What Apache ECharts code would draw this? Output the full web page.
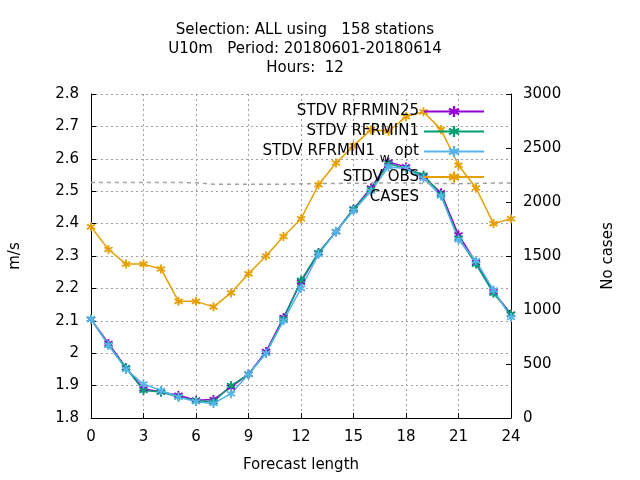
<!DOCTYPE html>
<html><head><meta charset="utf-8">
<script src="https://cdn.jsdelivr.net/npm/echarts@6/dist/echarts.min.js"></script>
<style>body{margin:0}#c{width:640px;height:480px}</style>
</head><body><div id="c"></div>
<script>
var hours = [0,1,2,3,4,5,6,7,8,9,10,11,12,13,14,15,16,17,18,19,20,21,22,23,24];
var rfrmin25 = [2.105,2.03,1.955,1.89,1.88,1.87,1.855,1.857,1.895,1.935,2.005,2.11,2.22,2.31,2.375,2.445,2.51,2.59,2.575,2.545,2.495,2.365,2.28,2.19,2.12];
var rfrmin1 = [2.105,2.025,1.955,1.885,1.88,1.865,1.853,1.85,1.9,1.935,2.0,2.105,2.225,2.31,2.375,2.445,2.505,2.585,2.57,2.55,2.49,2.355,2.275,2.185,2.12];
var rfrmin1opt = [2.105,2.025,1.95,1.905,1.885,1.865,1.85,1.845,1.875,1.935,2.0,2.1,2.2,2.305,2.375,2.44,2.5,2.575,2.57,2.54,2.485,2.35,2.285,2.195,2.11];
var obs = [2.39,2.32,2.275,2.275,2.26,2.16,2.16,2.143,2.186,2.245,2.3,2.36,2.415,2.52,2.587,2.64,2.69,2.685,2.73,2.745,2.69,2.58,2.51,2.4,2.415];
var cases = [2180,2180,2180,2180,2180,2180,2178,2165,2165,2165,2165,2165,2168,2170,2172,2174,2175,2175,2175,2172,2172,2170,2172,2175,2175];

var star = 'path://M-1,-5h2v3.3l2.9,-1.7l1,1.7l-2.9,1.7l2.9,1.7l-1,1.7l-2.9,-1.7v3.3h-2v-3.3l-2.9,1.7l-1,-1.7l2.9,-1.7l-2.9,-1.7l1,-1.7l2.9,1.7z';

function pair(arr) { return hours.map(function (h, i) { return [h, arr[i]]; }); }
function line(name, arr, color) {
    return { name: name, type: 'line', data: pair(arr), symbol: star, symbolSize: 9,
        itemStyle: { color: color }, lineStyle: { color: color, width: 1.5 } };
}
var grid = { lineStyle: { color: '#a0a0a0', type: [2, 3] } };
var font = 'DejaVu Sans';
var lbl = { fontSize: 15, color: '#000' };

var option = {
    animation: false,
    textStyle: { fontFamily: font },
    title: { text: 'Selection: ALL using   158 stations\nU10m   Period: 20180601-20180614\nHours:  12',
        left: 300, top: 16, textAlign: 'center',
        textStyle: { fontSize: 15, fontWeight: 'normal', lineHeight: 19, color: '#000' } },
    grid: { left: 90, right: 129, top: 94, bottom: 62 },
    legend: { right: 150, top: 99, orient: 'vertical', align: 'right', itemGap: 5, itemWidth: 60,
        itemHeight: 14, textStyle: { fontSize: 15, color: '#000',
            rich: { s: { fontSize: 12, padding: [14, 0, 0, 0] } } },
        formatter: function (n) { return n === 'STDV RFRMIN1 opt' ? 'STDV RFRMIN1 {s|w} opt' : n; },
        data: ['STDV RFRMIN25', 'STDV RFRMIN1', 'STDV RFRMIN1 opt', 'STDV OBS',
            { name: 'CASES', icon: 'path://M0,0h1v0.1h-1z', itemStyle: { opacity: 0 } }] },
    xAxis: { type: 'value', min: 0, max: 24, interval: 3, name: 'Forecast length', nameLocation: 'middle',
        nameGap: 40, nameTextStyle: lbl,
        axisLine: { lineStyle: { color: '#000' } }, axisTick: { inside: true },
        axisLabel: { fontSize: 15, color: '#000', margin: 12 }, splitLine: grid },
    yAxis: [
        { type: 'value', min: 1.8, max: 2.8, interval: 0.1, name: 'm/s', nameLocation: 'middle', nameGap: 68,
            nameTextStyle: lbl,
            axisLine: { show: true, lineStyle: { color: '#000' } }, axisTick: { inside: true },
            axisLabel: { fontSize: 15, color: '#000', margin: 12, formatter: function (v) { return String(+v.toFixed(1)); } },
            splitLine: grid },
        { type: 'value', min: 0, max: 3000, interval: 500, name: 'No cases', nameLocation: 'middle', nameGap: 90,
            nameTextStyle: lbl,
            axisLine: { show: true, lineStyle: { color: '#000' } }, axisTick: { inside: true },
            axisLabel: { fontSize: 15, color: '#000', margin: 12, formatter: function (v) { return String(v); } },
            splitLine: { show: false } }
    ],
    series: [
        line('STDV RFRMIN25', rfrmin25, '#9400d3'),
        line('STDV RFRMIN1', rfrmin1, '#009e73'),
        line('STDV RFRMIN1 opt', rfrmin1opt, '#56b4e9'),
        line('STDV OBS', obs, '#e69f00'),
        { name: 'CASES', type: 'line', yAxisIndex: 1, data: pair(cases), symbol: 'none',
            itemStyle: { color: '#a0a0a0' }, lineStyle: { color: '#a0a0a0', width: 1.5, type: [4, 4] } }
    ]
};
echarts.init(document.getElementById('c')).setOption(option);
</script></body></html>
